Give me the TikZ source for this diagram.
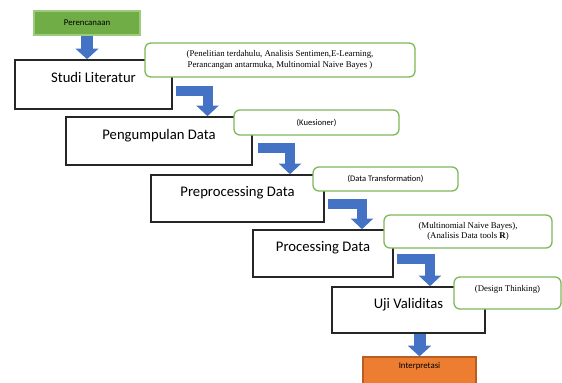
\documentclass[tikz,border=0pt]{standalone}
\usepackage{fontspec}
\setmainfont{Carlito}
\newfontfamily\timesfont{Liberation Serif}
\usepackage{tikz}
\usetikzlibrary{calc}
\usetikzlibrary{arrows.meta}

\definecolor{arrowblue}{HTML}{4472C4}
\definecolor{notegreen}{HTML}{7DB95A}
\definecolor{startgreen}{HTML}{70AD47}
\definecolor{startline}{HTML}{9CCB7C}
\definecolor{endorange}{HTML}{ED7D31}
\definecolor{endline}{HTML}{B85E22}
\definecolor{boxline}{HTML}{262626}

\begin{document}
\begin{tikzpicture}[x=0.75pt, y=-0.75pt,
	stepbox/.style={draw=boxline, line width=1.2pt, fill=white, inner sep=0pt, text height=7pt, text depth=10pt, font=\fontsize{11}{13}\selectfont},
	endbox/.style={line width=0.9pt, inner sep=0pt, font=\fontsize{6.6}{8}\selectfont},
	notebox/.style={draw=notegreen, line width=1pt, rounded corners=4.5pt, fill=white, inner sep=0pt, align=center},
	timesnote/.style={font=\timesfont\fontsize{6.6}{7.8}\selectfont},
	sansnote/.style={font=\fontsize{6.4}{7.8}\selectfont},
	flow/.style={draw=arrowblue, line width=7.5pt, line join=miter, -{Triangle[length=8pt, width=16.5pt]}}]

			\useasboundingbox (0,0) rectangle (562,383);

			\node[endbox, draw=startline, fill=startgreen, minimum width=79.5pt, minimum height=18pt] (1) at (87,23) {Perencanaan};

			\node[stepbox, minimum width=117.75pt, minimum height=36.75pt] (2) at (93.5,84.5) {Studi Literatur};
			\node[stepbox, minimum width=139.5pt, minimum height=36pt] (3) at (159,141) {Pengumpulan Data};
			\node[stepbox, minimum width=129.75pt, minimum height=35.25pt] (4) at (237.5,198.5) {Preprocessing Data};
			\node[stepbox, minimum width=105pt, minimum height=35.25pt] (5) at (323,253.5) {Processing Data};
			\node[stepbox, minimum width=114.75pt, minimum height=34.5pt] (6) at (408.5,310) {Uji Validitas};

			\node[endbox, draw=endline, fill=endorange, minimum width=84.75pt, minimum height=24pt, text height=4.7pt, text depth=11pt] (7) at (419.5,373) {Interpretasi};

			\path[flow, line width=9pt, -{Triangle[length=8pt, width=17pt]}] (1.south) -- (1.south |- 2.north);
			\path[flow] ($(2.east)+(3,6.5)$) -| ($(3.north)+(48.5,0)$);
			\path[flow] ($(3.east)+(5,6.5)$) -| ($(4.north)+(52.5,0)$);
			\path[flow] ($(4.east)+(3,5)$) -| ($(5.north)+(39,0)$);
			\path[flow] ($(5.east)+(3,5.5)$) -| ($(6.north)+(21.5,0)$);
			\path[flow, line width=9pt, -{Triangle[length=8pt, width=17pt]}] (7.north |- 6.south) -- (7.north);

			\node[notebox, timesnote, minimum width=202.5pt, minimum height=25.5pt] (8) at (280,60) {(Penelitian terdahulu, Analisis Sentimen,E-Learning,\\Perancangan antarmuka, Multinomial Naive Bayes )};
			\node[notebox, sansnote, minimum width=123.75pt, minimum height=18.75pt] (9) at (316.5,122.5) {(Kuesioner)};
			\node[notebox, sansnote, minimum width=108.75pt, minimum height=18pt] (10) at (385.5,179) {(Data Transformation)};
			\node[notebox, timesnote, minimum width=126pt, minimum height=24.75pt] (11) at (468,231.5) {(Multinomial Naive Bayes),\\(Analisis Data tools \textbf{R})};
			\node[notebox, timesnote, minimum width=80.25pt, minimum height=24pt, text depth=7.5pt] (12) at (507.5,293) {(Design Thinking)};
\end{tikzpicture}
\end{document}
